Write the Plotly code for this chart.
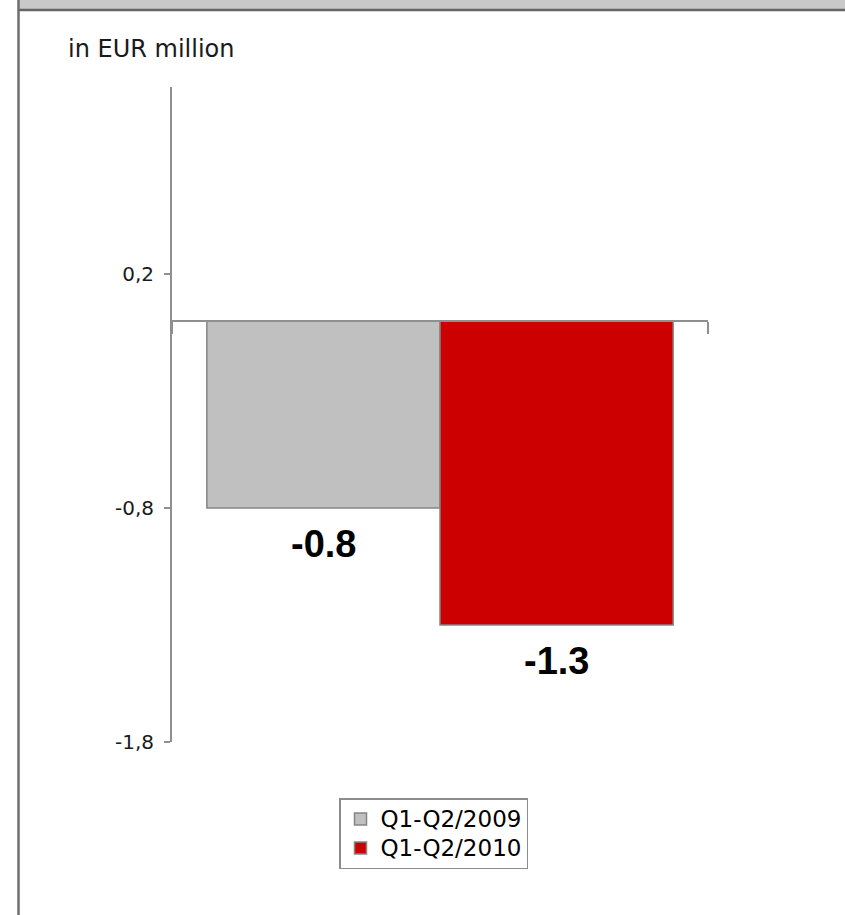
import plotly.graph_objects as go

# ---- data ----
categories = ["H1"]
series_names = ["Q1-Q2/2009", "Q1-Q2/2010"]
series_values = [[-0.8], [-1.3]]
value_labels = ["-0.8", "-1.3"]
series_colors = ["#c0c0c0", "#cc0000"]
y_tick_vals = [0.2, -0.8, -1.8]
y_tick_text = ["0,2", "-0,8", "-1,8"]
unit_label = "in EUR million"

# ---- layout geometry (pixels) ----
W, H = 845, 915
ML, MR, MT, MB = 172, 137, 87, 173
PW, PH = W - ML - MR, H - MT - MB
Y_RANGE = [-1.8, 1.0]
BARGAP = 0.13


def px_x(px):
    return (px - ML) / PW


def px_y(py):
    return (H - MB - py) / PH


fig = go.Figure()
for name, vals, col in zip(series_names, series_values, series_colors):
    fig.add_trace(go.Bar(
        x=categories, y=vals,
        name=f"<span style='font-size:23px'>{name}</span>",
        marker=dict(color=col, line=dict(color="#858585", width=1.5)),
        hoverinfo="skip",
    ))

# value labels below each bar
n = len(series_names)
bw = (1 - BARGAP) / n
for i, (vals, lab) in enumerate(zip(series_values, value_labels)):
    off = -(1 - BARGAP) / 2 + bw * (i + 0.5)
    fig.add_annotation(
        x=0 + off, y=vals[0], xref="x", yref="y",
        text=f"<b>{lab}</b>", showarrow=False,
        yanchor="top", xanchor="center", yshift=-13,
        font=dict(family="Liberation Sans", size=38, color="black"),
    )

# unit label
fig.add_annotation(
    x=px_x(66), y=px_y(49), xref="paper", yref="paper",
    text=unit_label, showarrow=False, xanchor="left", yanchor="middle",
    font=dict(family="DejaVu Sans", size=24, color="#1a1a1a"),
)

# frame decorations: header band and left border
fig.add_shape(type="rect", xref="paper", yref="paper",
              x0=px_x(19), x1=px_x(W + 2), y0=px_y(9.5), y1=px_y(-2),
              fillcolor="#c9c9c9", line=dict(width=0), layer="below")
fig.add_shape(type="line", xref="paper", yref="paper",
              x0=px_x(19), x1=px_x(W + 2), y0=px_y(10), y1=px_y(10),
              line=dict(color="#666666", width=2.5))
fig.add_shape(type="line", xref="paper", yref="paper",
              x0=px_x(18.5), x1=px_x(18.5), y0=px_y(-2), y1=px_y(H + 2),
              line=dict(color="#6e6e6e", width=2.5))

zero_pos = (0 - Y_RANGE[0]) / (Y_RANGE[1] - Y_RANGE[0])

fig.update_layout(
    width=W, height=H,
    margin=dict(l=ML, r=MR, t=MT, b=MB, autoexpand=False),
    paper_bgcolor="white", plot_bgcolor="white",
    barmode="group", bargap=BARGAP, bargroupgap=0,
    showlegend=True,
    legend=dict(
        x=px_x(339), y=px_y(798), xanchor="left", yanchor="top",
        bgcolor="white", bordercolor="#8c8c8c", borderwidth=1.5,
        font=dict(family="DejaVu Sans", size=20, color="black"),
        tracegroupgap=0, traceorder="normal",
    ),
    xaxis=dict(
        type="category", range=[-0.5, 0.5],
        showticklabels=False, showgrid=False, zeroline=False,
        showline=True, linecolor="#8f8f8f", linewidth=2,
        ticks="outside", tickson="boundaries", ticklen=12,
        tickcolor="#8f8f8f", tickwidth=2,
        anchor="free", position=zero_pos,
    ),
    yaxis=dict(
        range=Y_RANGE, tickvals=y_tick_vals, ticktext=y_tick_text,
        showgrid=False, zeroline=False,
        showline=True, linecolor="#8f8f8f", linewidth=2,
        ticks="outside", ticklen=6, tickcolor="#8f8f8f", tickwidth=2,
        ticklabelstandoff=6,
        tickfont=dict(family="DejaVu Sans", size=20, color="#1a1a1a"),
    ),
)

fig.write_html(
    "out.html",
    config={"displayModeBar": False},
    post_script="document.body.style.margin='0';document.body.style.overflow='hidden';",
)
